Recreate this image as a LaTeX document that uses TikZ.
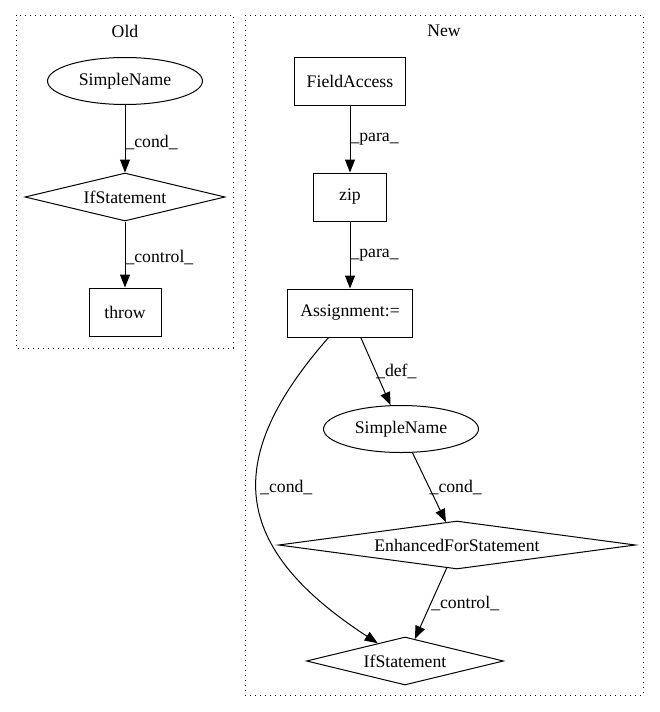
\documentclass[tikz,border=0pt]{standalone}
\usepackage{fontspec}
\setmainfont{Liberation Serif}
\usetikzlibrary{shapes.geometric, arrows.meta}

\begin{document}
\begin{tikzpicture}[
		x=1pt, y=-1pt,
		every node/.style={font=\fontsize{17.7pt}{20pt}\selectfont},
		box/.style={rectangle, draw, line width=1pt, minimum height=48pt, inner sep=0pt},
		oval/.style={ellipse, draw, line width=1pt, minimum width=155pt, minimum height=47pt, inner sep=0pt},
		cond/.style={diamond, draw, line width=1pt, minimum height=48pt, inner sep=0pt, aspect=6},
		lbl/.style={anchor=west, inner sep=0pt},
		arr/.style={-{Triangle[length=13pt, width=10pt]}, line width=1pt},
		cluster/.style={line width=1pt, dash pattern=on 1pt off 4pt}
	]
  \useasboundingbox (0, 0) rectangle (659, 712);
  \draw [cluster] (16, 15) rectangle (233, 348);
  \draw [cluster] (245, 15) rectangle (643, 695);
  \node (old) at (125, 31) {Old};
  \node (new) at (444, 31) {New};

  \node (sn0) [oval] at (125, 81) {SimpleName};
  \node (if0) [cond, minimum width=200pt] at (125, 197) {IfStatement};
  \node (thr) [box, minimum width=72pt] at (125, 312) {throw};

  \node (fa) [box, minimum width=111pt] at (350, 81) {FieldAccess};
  \node (zip) [box, minimum width=73pt] at (350, 197) {zip};
  \node (asg) [box, minimum width=125pt] at (350, 313) {Assignment:=};
  \node (sn1) [oval] at (401, 429) {SimpleName};
  \node (efs) [cond, minimum width=357pt] at (457, 545) {EnhancedForStatement};
  \node (if1) [cond, minimum width=197pt] at (405, 661) {IfStatement};

  \draw [arr] (sn0) -- node [lbl, pos=0.55] {\_cond\_} (if0);
  \draw [arr] (if0) -- node [lbl, pos=0.54] {\_control\_} (thr);
  \draw [arr] (fa) -- node [lbl, pos=0.5] {\_para\_} (zip);
  \draw [arr] (zip) -- node [lbl, pos=0.5] {\_para\_} (asg);
  \draw [arr] (asg) -- node [lbl, pos=0.5] {\_def\_} (sn1);
  \draw [arr] (sn1) -- node [lbl, pos=0.5] {\_cond\_} (efs);
  \draw [arr] (efs) -- node [lbl, pos=0.5] {\_control\_} (if1);
  \draw [arr] (asg) .. controls (222, 459) and (230, 547) .. (if1);
  \node (c1) [lbl] at (260, 487) {\_cond\_};
\end{tikzpicture}
\end{document}
